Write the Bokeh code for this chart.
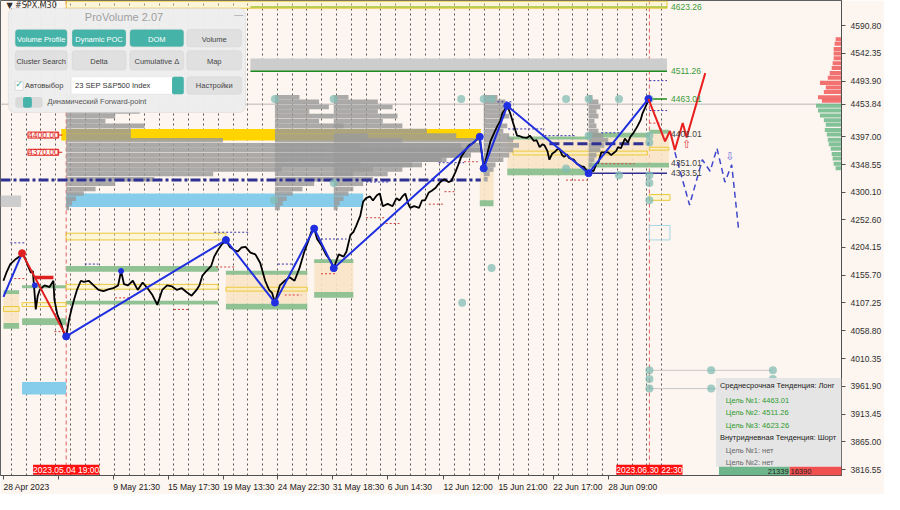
from bokeh.plotting import figure
from bokeh.models import Range1d, FixedTicker, BoxAnnotation, Label, Span
from bokeh.embed import file_html
from bokeh.resources import INLINE
from bokeh.core.properties import value

BG = "#FDF5EF"
FONT = "Liberation Sans"

# ---------------- data ----------------
bar_idx = [3, 6, 10, 15, 19, 22, 25, 28, 31, 33, 36, 38, 40, 45, 50, 54, 55, 58, 62, 65, 67, 70, 73, 75, 78,
           82, 85, 90, 95, 100, 105, 110, 115, 120, 123, 126, 130, 135, 140, 145, 150, 155, 160, 165, 170,
           175, 180, 185, 190, 195, 200, 203, 206, 210, 215, 218, 222, 226, 230, 234, 238, 242, 246, 250,
           255, 260, 265, 270, 274, 277, 280, 285, 290, 295, 300, 305, 310, 314, 317, 320, 323, 327, 332,
           337, 340, 345, 350, 353, 357, 360, 363, 367, 370, 373, 377, 380, 384, 387, 390, 395, 400, 404,
           407, 410, 413, 416, 418, 422, 427, 430, 433, 437, 440, 444, 447, 450, 453, 457, 460, 464, 467,
           470, 473, 476, 478, 483, 486, 488, 490, 493, 497, 500, 504, 507, 510, 512, 515, 517, 520, 523,
           527, 530, 533, 537, 540, 544, 547, 550, 553, 555, 558, 560, 563, 565, 568, 570, 573, 575, 578,
           580, 583, 585, 588, 590, 593, 595, 598, 600, 603, 605, 608, 610, 613, 617, 620, 623, 625, 628,
           630, 633, 637, 640, 643, 645, 648, 650, 653, 655, 658, 661]
close = [4146, 4160, 4175, 4183, 4188, 4193, 4186, 4172, 4160, 4163, 4096, 4120, 4130, 4138, 4135, 4146,
         4113, 4087, 4070, 4053, 4049, 4079, 4100, 4113, 4130, 4146, 4144, 4146, 4138, 4130, 4128, 4131,
         4133, 4138, 4163, 4140, 4138, 4146, 4130, 4143, 4133, 4121, 4104, 4130, 4138, 4136, 4130, 4133,
         4126, 4120, 4130, 4138, 4155, 4163, 4172, 4188, 4200, 4210, 4216, 4205, 4200, 4197, 4204, 4205,
         4195, 4192, 4177, 4146, 4130, 4125, 4108, 4138, 4146, 4152, 4146, 4168, 4197, 4215, 4231, 4237,
         4219, 4209, 4192, 4180, 4168, 4192, 4188, 4197, 4226, 4231, 4242, 4259, 4284, 4290, 4293, 4286,
         4295, 4298, 4276, 4280, 4276, 4290, 4286, 4293, 4298, 4280, 4273, 4276, 4273, 4286, 4286, 4300,
         4303, 4308, 4315, 4320, 4323, 4318, 4320, 4335, 4348, 4362, 4370, 4378, 4382, 4387, 4392, 4399,
         4382, 4342, 4370, 4390, 4405, 4416, 4425, 4438, 4446, 4451, 4438, 4421, 4399, 4398, 4396, 4395,
         4399, 4390, 4391, 4379, 4384, 4382, 4372, 4357, 4368, 4370, 4375, 4377, 4365, 4362, 4366, 4360,
         4358, 4357, 4350, 4348, 4345, 4345, 4338, 4333, 4338, 4337, 4350, 4352, 4370, 4370, 4370, 4365,
         4368, 4372, 4379, 4377, 4394, 4387, 4398, 4402, 4410, 4416, 4426, 4438, 4449, 4461]

zig_idx = [3, 22, 67, 230, 280, 320, 340, 489, 493, 517, 600, 661]
zig_px = [4118, 4194, 4049, 4217, 4108, 4237, 4168, 4397, 4342, 4451, 4333.5, 4463]
extra_dot_idx = [35, 123]
extra_dot_px = [4138, 4163]

fc_red_idx = [661, 678, 683, 688, 696, 700, 719]
fc_red_px = [4463, 4389, 4407, 4374, 4421, 4396, 4508]
fc_blue_idx = [688, 703, 716, 724, 731, 739, 746, 753]
fc_blue_px = [4370, 4278, 4357, 4337, 4377, 4318, 4348, 4236]

current_price = 4453.84
price_ticks = [4590.80, 4542.35, 4493.90, current_price, 4397.00, 4348.55, 4300.10, 4252.60, 4204.15,
               4155.70, 4107.25, 4058.80, 4010.35, 3961.90, 3913.45, 3865.00, 3816.55]
time_tick_idx = [3, 59, 115, 171, 227, 283, 339, 395, 452, 508, 564, 620]
time_tick_labels = ["28 Apr 2023", "", "9 May 21:30", "15 May 17:30", "19 May 13:30", "24 May 22:30",
                    "31 May 18:30", "6 Jun 14:30", "12 Jun 12:00", "15 Jun 21:00", "22 Jun 17:00", "28 Jun 09:00"]
marker_idx = [67, 662]
marker_labels = ["2023.05.04 19:00", "2023.06.30 22:30"]
day_lines = [11 + 15.08 * k for k in range(45)]

# zones: left, right, bottom, top
green_l = [3, 3, 22, 22, 67, 67, 230, 230, 320, 320, 489, 517, 517, 600, 600, 662, 662]
green_r = [19, 19, 67, 67, 222, 222, 313, 313, 360, 360, 503, 600, 600, 662, 662, 682, 682]
green_b = [4122.9, 4062.3, 4133.0, 4069.0, 4161.6, 4104.4, 4156.6, 4096.0, 4176.8, 4116.2, 4276.1,
           4392.2, 4330.0, 4395.6, 4343.4, 4402.3, 4343.4]
green_t = [4129.6, 4072.4, 4138.0, 4080.8, 4171.7, 4111.1, 4163.3, 4106.1, 4183.5, 4126.3, 4286.2,
           4397.3, 4341.7, 4404.0, 4351.8, 4409.1, 4351.8]
beige_l = [3, 230, 320, 489, 517, 600, 662]
beige_r = [19, 313, 360, 503, 600, 662, 682]
beige_b = [4072.4, 4106.1, 4126.3, 4286.2, 4341.7, 4351.8, 4351.8]
beige_t = [4122.9, 4156.6, 4176.8, 4340.0, 4392.2, 4395.6, 4402.3]
ybox_l = [67, 67, 22, 3, 230, 523, 662, 662, 67]
ybox_r = [230, 222, 67, 19, 313, 660, 682, 683, 680]
ybox_b = [4217.2, 4131.3, 4101.0, 4092.6, 4128.0, 4365.3, 4373.7, 4286.2, 4621.1]
ybox_t = [4228.9, 4139.7, 4107.8, 4101.0, 4134.7, 4372.0, 4378.8, 4296.3, 4633.5]
blue_l = [67, 22]
blue_r = [370, 67]
blue_b = [4274.4, 3947.8]
blue_t = [4298.0, 3969.7]
grey_l = [0, 255]
grey_r = [21, 680]
grey_b = [4274.4, 4511.7]
grey_t = [4294.6, 4533.6]
gold_band = (62, 490, 4390.5, 4410.7)

# volume profiles (price bin, length in bars)
prof_bins = [4466, 4458, 4449, 4441, 4433, 4424, 4416, 4407, 4399, 4391, 4382, 4374, 4365, 4357, 4348,
             4340, 4332, 4323, 4315, 4306, 4298, 4289, 4281, 4273]
prof_start = [67, 280, 340, 493, 600]
prof_len = [
    [10, 30, 55, 75, 50, 40, 80, 66, 66, 160, 300, 423, 410, 380, 300, 220, 150, 90, 50, 30, 18, 10, 6, 3],
    [25, 45, 55, 35, 60, 45, 70, 60, 95, 130, 190, 210, 200, 175, 140, 100, 80, 60, 40, 28, 18, 12, 8, 5],
    [15, 45, 60, 45, 65, 50, 70, 95, 125, 145, 150, 140, 130, 110, 90, 70, 55, 40, 30, 20, 15, 10, 6, 4],
    [14, 22, 28, 20, 26, 18, 24, 20, 26, 30, 36, 30, 26, 20, 12, 10, 6, 4, 0, 0, 0, 0, 0, 0],
    [4, 10, 12, 8, 10, 6, 8, 10, 15, 20, 16, 12, 8, 6, 4, 2, 0, 0, 0, 0, 0, 0, 0, 0],
]

# right-edge volume (ask above / bid below)
rv_red_px = [4567, 4559, 4550, 4542, 4534, 4525, 4517, 4508, 4500, 4491, 4483, 4475, 4466, 4460]
rv_red_len = [6, 7, 8, 8, 8, 9, 10, 12, 14, 22, 16, 18, 24, 20]
rv_green_px = [4451, 4443, 4434, 4426, 4418, 4409, 4401, 4392, 4384, 4376, 4367, 4359, 4350, 4342]
rv_green_len = [26, 24, 22, 18, 16, 17, 15, 14, 13, 11, 10, 9, 8, 6]

# teal markers
dot_idx = [280, 340, 470, 493, 501, 577, 600, 631, 662, 279, 340, 493, 577, 600, 631, 662, 662, 662,
           662, 662, 501, 471, 662, 725, 788, 662, 788, 662, 725, 788]
dot_px = [4462.9] * 9 + [4286.2, 4316.5, 4341.7, 4341.7, 4399.0, 4330.0, 4399.0, 4387.2, 4330.0, 4316.5,
                         4286.2, 4168.4, 4107.8, 3989.9, 3989.9, 3989.9, 3974.8, 3974.8, 3958.0, 3958.0, 3958.0]

navy_x0 = [10, 86, 218, 283, 327, 373, 447, 507, 518, 555, 613, 662, 662]
navy_x1 = [25, 100, 253, 303, 353, 397, 473, 523, 555, 587, 633, 680, 680]
navy_y = [4212.1, 4175.1, 4230.6, 4175.1, 4218.8, 4318.2, 4351.8, 4457.9, 4410.7, 4399.0, 4404.0, 4494.9, 4442.7]
red_x0 = [10, 55, 117, 177, 220, 290, 327, 373, 393, 437, 453, 473, 577, 613, 662]
red_x1 = [25, 67, 133, 193, 240, 307, 343, 393, 407, 453, 463, 487, 600, 647, 675]
red_y = [4149.8, 4057.3, 4116.2, 4096.0, 4170.0, 4121.2, 4158.2, 4255.9, 4245.8, 4279.5, 4301.3, 4353.5,
         4321.5, 4350.1, 4420.8]

targets = [4623.26, 4511.26, 4463.01]
levels = [4401.01, 4351.01, 4333.51]
poc_level = 4321.5
poc2_level = 4385.0

# ---------------- figure ----------------
W, H = 884, 494
BORDER_R, BORDER_B = 42, 18
FW, FH = W - BORDER_R, H - BORDER_B
X0, X1 = 0, 858
Y0, Y1 = 3806.5, 4634.6
AX_FS = 8.5
p = figure(width=W, height=H, x_range=Range1d(X0, X1), y_range=Range1d(Y0, Y1),
           y_axis_location="right", toolbar_location=None, output_backend="svg",
           background_fill_color=BG, border_fill_color=BG, outline_line_color="#606060",
           min_border_left=0, min_border_top=0, min_border_right=BORDER_R, min_border_bottom=BORDER_B)


def Y(py):  # layout helper for overlay widgets (reference pixel row -> price)
    return 4634.6 - 1.6832 * py


# approximate Liberation Sans advance widths (em) to left-align time labels at their ticks
_CW = {" ": 0.278, ":": 0.278, ".": 0.278, "A": 0.667, "M": 0.833, "J": 0.5, "p": 0.556, "r": 0.333,
       "a": 0.556, "y": 0.5, "u": 0.556, "n": 0.556}


def text_w(s):
    return sum(_CW.get(c, 0.556) for c in s) * AX_FS * (X1 - X0) / FW


label_centers = [t + text_w(s) / 2 for t, s in zip(time_tick_idx, time_tick_labels) if s]
label_texts = [s for s in time_tick_labels if s]

p.yaxis.ticker = FixedTicker(ticks=price_ticks)
p.yaxis.major_label_overrides = {t: f"{t:.2f}" for t in price_ticks}
p.yaxis.major_label_text_font = FONT
p.yaxis.major_label_text_font_size = f"{AX_FS}px"
p.yaxis.major_label_text_color = "#303030"
p.yaxis.major_tick_out = 4
p.yaxis.major_tick_in = 0
p.yaxis.minor_tick_out = 0
p.yaxis.minor_tick_in = 0
p.yaxis.axis_line_color = "#505050"
p.yaxis.major_tick_line_color = "#505050"

p.xaxis.ticker = FixedTicker(ticks=label_centers, minor_ticks=time_tick_idx)
p.xaxis.major_label_overrides = dict(zip(label_centers, label_texts))
p.xaxis.major_label_text_font = FONT
p.xaxis.major_label_text_font_size = f"{AX_FS}px"
p.xaxis.major_label_text_color = "#202020"
p.xaxis.major_label_standoff = 2
p.xaxis.major_tick_out = 0
p.xaxis.major_tick_in = 0
p.xaxis.minor_tick_out = 4
p.xaxis.minor_tick_in = 0
p.xaxis.minor_tick_line_color = "#505050"
p.xaxis.axis_line_color = "#505050"

p.xgrid.ticker = FixedTicker(ticks=day_lines)
p.xgrid.grid_line_color = "#303030"
p.xgrid.grid_line_dash = "2 3"
p.xgrid.grid_line_alpha = 0.8
p.ygrid.visible = False

# vertical markers and current price
for xv in marker_idx:
    p.add_layout(Span(location=xv, dimension="height", line_color="#E06060", line_dash="4 3",
                      line_width=1, level="underlay"))
p.add_layout(Span(location=current_price, dimension="width", line_color="#B8B8B8", line_width=1,
                  level="underlay"))

# zones
p.quad(left=blue_l, right=blue_r, bottom=blue_b, top=blue_t, fill_color="#86CDEB", line_color=None)
p.quad(left=grey_l, right=grey_r, bottom=grey_b, top=grey_t, fill_color="#CDCDCD", line_color=None)
p.quad(left=662, right=683, bottom=4217.2, top=4242.4, fill_color=None, line_color="#A8D8E8")
p.quad(left=beige_l, right=beige_r, bottom=beige_b, top=beige_t, fill_color="#FAE6C6", fill_alpha=0.9,
       line_color=None)
p.quad(left=green_l, right=green_r, bottom=green_b, top=green_t, fill_color="#8BBF8D", fill_alpha=0.95,
       line_color=None)
p.quad(left=ybox_l, right=ybox_r, bottom=ybox_b, top=ybox_t, fill_color="#FFF3B0", fill_alpha=0.35,
       line_color="#EAC93A", line_width=1)
p.quad(left=gold_band[0], right=gold_band[1], bottom=gold_band[2], top=gold_band[3],
       fill_color="#FFD400", line_color=None)

# volume profiles
for x0, lens in zip(prof_start, prof_len):
    ys = [b for b, ln in zip(prof_bins, lens) if ln > 0]
    rs = [x0 + ln for ln in lens if ln > 0]
    p.hbar(y=ys, left=x0, right=rs, height=8.0, fill_color="#9A9A9A", fill_alpha=0.82, line_color=None)

# target / level lines
p.segment(x0=[255, 255, 662], x1=[680, 680, 680], y0=targets, y1=targets,
          line_color=["#A8C030", "#1E8C1E", "#1E8C1E"], line_width=1.5)
p.segment(x0=0, x1=490, y0=poc_level, y1=poc_level, line_color="#2E3192", line_width=3, line_dash="10 3 3 3")
p.segment(x0=560, x1=662, y0=poc2_level, y1=poc2_level, line_color="#2E3192", line_width=3, line_dash="10 4")
p.segment(x0=600, x1=680, y0=levels[2], y1=levels[2], line_color="#2E3192", line_width=1.5)

# small dashed levels
p.segment(x0=navy_x0, x1=navy_x1, y0=navy_y, y1=navy_y, line_color="#3535B0", line_dash="2 2", line_width=1)
p.segment(x0=red_x0, x1=red_x1, y0=red_y, y1=red_y, line_color="#D04040", line_dash="2 2", line_width=1)

# teal markers
p.segment(x0=[662, 662], x1=[788, 788], y0=[3989.9, 3958.0], y1=[3989.9, 3958.0], line_color="#C8C8C8")
p.scatter(dot_idx, dot_px, size=8, fill_color="#82BCB4", fill_alpha=0.75, line_color=None)

# price
p.line(bar_idx, close, line_color="black", line_width=1.8)

# zigzag
p.line(zig_idx[0:2], zig_px[0:2], line_color="#2030E0", line_width=2)
p.line(zig_idx[1:3], zig_px[1:3], line_color="#E02020", line_width=2)
p.line(zig_idx[2:], zig_px[2:], line_color="#2030E0", line_width=2)
p.segment(x0=35, x1=54, y0=4151.5, y1=4151.5, line_color="#E02020", line_width=3.5)
p.scatter(zig_idx[2:], zig_px[2:], size=7, color="#2030E0")
p.scatter(extra_dot_idx, extra_dot_px, size=5, color="#2030E0")
p.scatter([zig_idx[1]], [zig_px[1]], size=7, color="#E02020")

# forecasts
p.line(fc_red_idx, fc_red_px, line_color="#E8201F", line_width=2)
p.line(fc_blue_idx, fc_blue_px, line_color="#3F48CC", line_width=1.5, line_dash="6 4")

# right volume
p.hbar(y=rv_red_px, right=858, left=[858 - v for v in rv_red_len], height=7, fill_color="#F05A5A",
       fill_alpha=0.85, line_color=None)
p.hbar(y=rv_green_px, right=858, left=[858 - v for v in rv_green_len], height=7, fill_color="#6DB88A",
       fill_alpha=0.85, line_color=None)


def lab(x, y, text, size="8.5px", color="#222222", align="left", baseline="middle", font=FONT,
        bg=None, border=None):
    p.add_layout(Label(x=x, y=y, text=text, text_font_size=size, text_color=color, text_align=align,
                       text_baseline=baseline, text_font=font, background_fill_color=bg,
                       border_line_color=border))


def box(l, r, t, b, fill, line=None, radius=0, alpha=1.0):
    p.add_layout(BoxAnnotation(left=l, right=r, top=t, bottom=b, fill_color=fill, fill_alpha=alpha,
                               line_color=line, border_radius=radius))


# level labels
for t in targets:
    lab(684, t, f"{t:.2f}", color="#3A9A3A")
for lv in levels:
    lab(684, lv, f"{lv:.2f}", color="#404040")
lab(700, 4383, "⇧", size="11px", color="#E04040", align="center", font="DejaVu Sans")
lab(744, 4362, "⇩", size="11px", color="#7070E0", align="center", font="DejaVu Sans")
for lv in (4400.0, 4370.0):
    p.segment(x0=55, x1=63, y0=lv, y1=lv, line_color="#E02020")
    lab(28, lv, f"{lv:.2f}", color="#E02020", border="#E02020", bg=BG)

# marker date labels at the foot of their vertical lines
for xi, s in zip(marker_idx, marker_labels):
    lab(xi, Y0 + 1.5, s, baseline="bottom", align="center", color="white", bg="#FF1010")

# symbol caption
lab(6, Y(5), "▼ #SPX,M30", size="8px", color="#303030", font="DejaVu Sans")

# ---- ProVolume panel ----
box(8, 250, Y(8), Y(116), "#EDEDED", line="#C4C4C4", radius=6, alpha=0.97)
lab(126, Y(17), "ProVolume 2.07", size="11px", color="#A0A0A0", align="center")
lab(243, Y(15), "—", size="9px", color="#909090", align="center")
btn_row1 = [(15, 68, "Volume Profile", True), (73, 128, "Dynamic POC", True), (132, 187, "DOM", True),
            (190, 246, "Volume", False)]
btn_row2 = [(15, 68, "Cluster Search"), (73, 128, "Delta"), (132, 187, "Cumulative Δ"), (190, 246, "Map")]
for l, r, t, teal in btn_row1:
    box(l, r, Y(30), Y(48), "#45B3A8" if teal else "#E0E0E0", line="#C8C8C8", radius=3)
    lab((l + r) / 2, Y(40), t, size="7.5px", color="white" if teal else "#444444", align="center")
for l, r, t in btn_row2:
    box(l, r, Y(52), Y(72), "#E0E0E0", line="#C8C8C8", radius=3)
    lab((l + r) / 2, Y(63), t, size="7.5px", color="#444444", align="center")
box(15, 23, Y(84), Y(93), "white", line="#A0A0A0")
lab(19, Y(87), "✓", size="9px", color="#3AA79C", align="center", font="DejaVu Sans")
lab(25, Y(88), "Автовыбор", size="7.5px", color="#444444")
box(72, 187, Y(79), Y(97), "white", line="#C8C8C8", radius=2)
box(175, 187, Y(79), Y(97), "#45B3A8", radius=2)
lab(76, Y(88), "23 SEP S&P500 Index", size="7.5px", color="#333333")
box(190, 246, Y(79), Y(97), "#E0E0E0", line="#C8C8C8", radius=3)
lab(218, Y(88), "Настройки", size="7.5px", color="#444444", align="center")
box(15, 43, Y(100), Y(111), "#DADADA", radius=3)
box(23, 32, Y(100), Y(111), "#45B3A8", radius=2)
lab(48, Y(105), "Динамический Forward-point", size="7.5px", color="#555555")

# ---- trend info box ----
box(730, 858, Y(391), Y(483), "#E4E4E4", alpha=0.95)
lab(734, Y(399), "Среднесрочная Тенденция: Лонг", size="7.5px", color="#222222")
lab(740, Y(414), "Цель №1: 4463.01", size="7.5px", color="#2E9A2E")
lab(740, Y(427), "Цель №2: 4511.26", size="7.5px", color="#2E9A2E")
lab(740, Y(440), "Цель №3: 4623.26", size="7.5px", color="#2E9A2E")
lab(734, Y(453), "Внутридневная Тенденция: Шорт", size="7.5px", color="#222222")
lab(740, Y(466), "Цель №1: нет", size="7.5px", color="#666666")
lab(740, Y(479), "Цель №2: нет", size="7.5px", color="#666666")
box(733, 805, Y(483), Y0, "#6DB58A")
box(805, 858, Y(483), Y0, "#F05050")
lab(804, (Y(483) + Y0) / 2, "21339", size="7.5px", color="#202020", align="right")
lab(806, (Y(483) + Y0) / 2, "16390", size="7.5px", color="#202020")

open("out.html", "w").write(file_html(p, INLINE))
